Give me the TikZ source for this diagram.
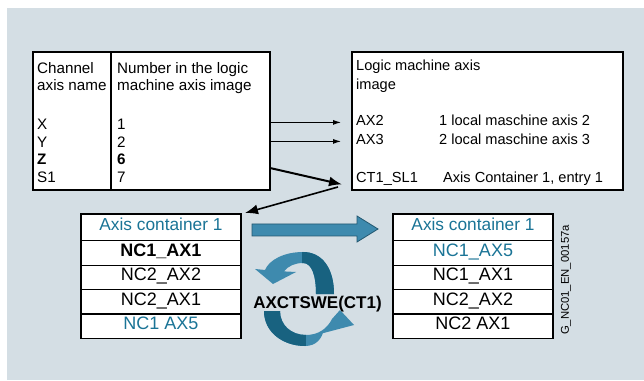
\documentclass[tikz,border=0pt]{standalone}
\usepackage{fontspec}
\setmainfont{Liberation Sans}
\usetikzlibrary{arrows.meta,positioning,calc}
\definecolor{bggray}{RGB}{212,222,228}
\definecolor{tealtxt}{RGB}{26,116,150}
\definecolor{swaplight}{RGB}{62,138,174}
\definecolor{swapdark}{RGB}{24,98,128}
\definecolor{swapedge}{RGB}{35,88,112}

\begin{document}
\begin{tikzpicture}[x=1pt,y=1pt,
  box/.style={draw,fill=white,line width=1.3pt,anchor=north west,inner sep=0pt,outer sep=0pt},
  ltxt/.style={anchor=base west,inner sep=0pt,text height=0.716em,text depth=0pt,font=\fontsize{15.2}{18}\selectfont},
  rtxt/.style={ltxt,font=\fontsize{14.6}{17}\selectfont},
  cell/.style={draw,fill=white,line width=1.3pt,minimum width=160pt,minimum height=24.4pt,inner sep=0pt,outer sep=0pt,text height=0.716em,text depth=0pt,font=\fontsize{18}{20}\selectfont},
  headcell/.style={cell,minimum height=26.8pt,text=tealtxt,font=\fontsize{17.3}{20}\selectfont},
  lnarrow/.style={-{Latex[length=8pt,width=5pt]},line width=0.9pt},
  bigarrow/.style={-{Latex[length=13pt,width=10pt]},line width=2pt}]
\useasboundingbox (0,0) rectangle (644,380);
\fill[bggray] (7,0.5) rectangle (644,372);

\node[box,minimum width=237pt,minimum height=138pt] (chan) at (33,328) {};
\draw[line width=1.3pt] ($(chan.north west)+(78,0)$) -- ($(chan.south west)+(78,0)$);
\node[ltxt] (c1) at (37,306.8) {Channel};
\node[ltxt] (c2) at (37,289.1) {axis name};
\node[ltxt] (cx) at (37,250.5) {X};
\node[ltxt] (cy) at (37,232.8) {Y};
\node[ltxt] (cz) at (37,215.1) {\textbf{Z}};
\node[ltxt] (cs) at (37,197.4) {S1};
\node[ltxt] (n1) at (117,306.8) {Number in the logic};
\node[ltxt] (n2) at (117,289.1) {machine axis image};
\node[ltxt] (nx) at (117,250.5) {1};
\node[ltxt] (ny) at (117,232.8) {2};
\node[ltxt] (nz) at (117,215.1) {\textbf{6}};
\node[ltxt] (ns) at (117,197.4) {7};

\node[box,minimum width=271pt,minimum height=138pt] (logic) at (352,328) {};
\node[rtxt] (l1) at (356,309) {Logic machine axis};
\node[rtxt] (l2) at (356,290.7) {image};
\node[rtxt] (ax2) at (356,254) {AX2};
\node[rtxt] (ax3) at (356,235) {AX3};
\node[rtxt] (ct1) at (356,197) {CT1\_SL1};
\node[rtxt] (ax2d) at (439,254) {1 local maschine axis 2};
\node[rtxt] (ax3d) at (439,235) {2 local maschine axis 3};
\node[rtxt] (ct1d) at (443,197) {Axis Container 1, entry 1};

\draw[lnarrow] (chan.east |- ax2.west) -- ([xshift=-15pt]ax2.west);
\draw[lnarrow] (chan.east |- ax3.west) -- ([xshift=-15pt]ax3.west);
\draw[bigarrow] ($(chan.south east)+(0,22)$) -- ([xshift=-14pt,yshift=-5pt]ct1.west);

\node[headcell] (hl) at (161,152.6) {Axis container 1};
\node[cell,below=0pt of hl] (la) {\textbf{NC1\_AX1}};
\node[cell,below=0pt of la] (lb) {NC2\_AX2};
\node[cell,below=0pt of lb] (lc) {NC2\_AX1};
\node[cell,below=0pt of lc,text=tealtxt] (ld) {NC1 AX5};

\node[headcell] (hr) at (473,152.6) {Axis container 1};
\node[cell,below=0pt of hr,text=tealtxt] (ra) {NC1\_AX5};
\node[cell,below=0pt of ra] (rb) {NC1\_AX1};
\node[cell,below=0pt of rb] (rc) {NC2\_AX2};
\node[cell,below=0pt of rc] (rd) {NC2 AX1};

\draw[bigarrow,line width=1.6pt] ($(logic.south west)+(-14,3)$) -- ($(hl.north east)+(4,1)$);

\draw[swapedge,fill=swaplight,line width=0.8pt] (252,156) -- (357,156) -- (357,164) -- (378,151) -- (357,138) -- (357,144) -- (252,144) -- cycle;

\fill[swaplight,path picture={\fill[swapdark] (302,80) rectangle (345,135);}]
  (334,86) .. controls (334,112) and (322,128) .. (303,128)
  .. controls (284,128) and (269,120) .. (265,110) -- (255,111) -- (273,96) -- (296,108) -- (284,108.6)
  .. controls (288,114) and (295,117) .. (303,117)
  .. controls (312,117) and (316,104) .. (316,86) -- cycle;
\fill[swaplight,path picture={\fill[swapdark] (255,25) rectangle (306,72);}]
  (264,69) .. controls (264,47) and (284,34) .. (305,34)
  .. controls (316,34) and (322,41) .. (324,51) -- (316,45) -- (354,55) -- (340,70) -- (332,61)
  .. controls (327,51) and (318,45) .. (306,45)
  .. controls (291,45) and (280,55) .. (280,69) -- cycle;

\node[font=\fontsize{17}{20}\selectfont\bfseries] (swap) at (317.5,76) {AXCTSWE(CT1)};
\node[rotate=90,font=\fontsize{11.3}{13}\selectfont] (gnum) at (566,100) {G\_NC01\_EN\_00157a};
\end{tikzpicture}
\end{document}
